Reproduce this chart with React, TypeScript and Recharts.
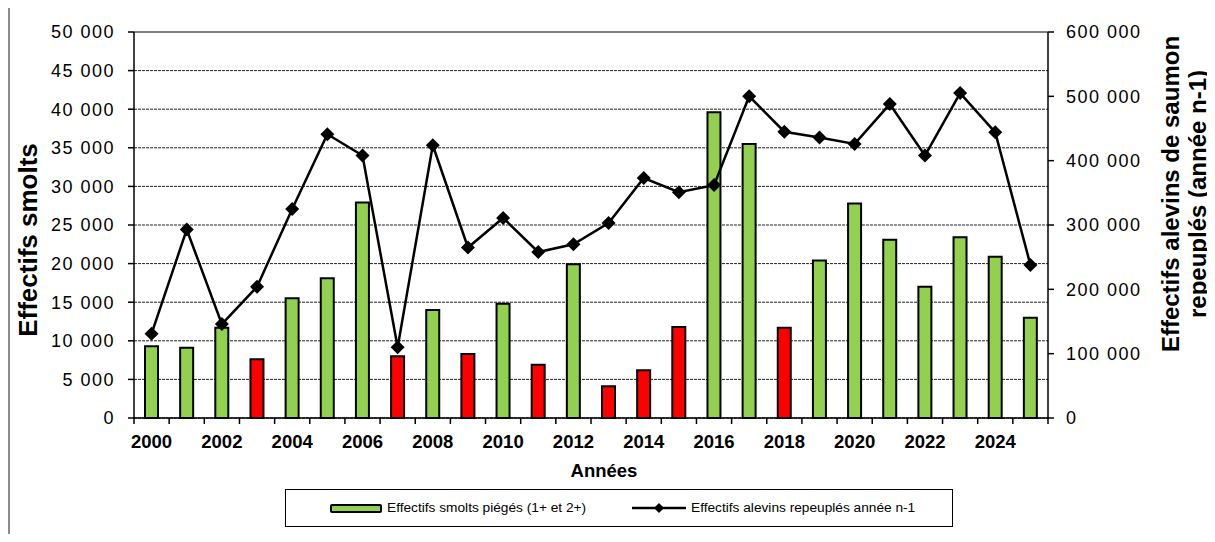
import React from 'react'
import { ComposedChart, Bar, Line, XAxis, YAxis, CartesianGrid, Cell, ReferenceLine } from 'recharts'

const years = [
  '2000', '2001', '2002', '2003', '2004', '2005', '2006', '2007', '2008', '2009', '2010', '2011', '2012',
  '2013', '2014', '2015', '2016', '2017', '2018', '2019', '2020', '2021', '2022', '2023', '2024', '2025',
]
// effectifs smolts piégés (axe gauche)
const smolts = [
  9300, 9100, 11700, 7600, 15500, 18100, 27900, 8000, 14000, 8300, 14800, 6900, 19900,
  4100, 6200, 11800, 39600, 35500, 11700, 20400, 27800, 23100, 17000, 23400, 20900, 13000,
]
// effectifs alevins repeuplés année n-1 (axe droit)
const alevins = [
  131000, 293000, 146000, 204000, 325000, 441000, 408000, 110000, 424000, 265000, 311000, 258000, 270000,
  303000, 373000, 351000, 362000, 500000, 445000, 436000, 426000, 488000, 408000, 505000, 444000, 238000,
]
const redYears = ['2003', '2007', '2009', '2011', '2013', '2014', '2015', '2018']
const leftTicks = [0, 5000, 10000, 15000, 20000, 25000, 30000, 35000, 40000, 45000, 50000]
const rightTicks = [0, 100000, 200000, 300000, 400000, 500000, 600000]

const GREEN = '#92D050'
const RED = '#FF0000'
const FONT = '"Liberation Sans", Arial, sans-serif'

const W = 1215
const H = 542
const PLOT_LEFT = 134
const PLOT_RIGHT = 1048
const PLOT_TOP = 32
const PLOT_BOTTOM = 418
const X_AXIS_H = 40

const data = years.map((year, i) => ({ year, smolts: smolts[i], alevins: alevins[i] }))

const fmt = (v: number) => String(v).replace(/\B(?=(\d{3})+(?!\d))/g, '\u00a0')

function YearTick(props: any) {
  const { x, y, payload, index } = props
  const half = payload?.offset > 0 ? payload.offset : (PLOT_RIGHT - PLOT_LEFT) / years.length / 2
  const isLast = index === years.length - 1
  return (
    <g>
      <line x1={x - half} x2={x - half} y1={y} y2={y + 6} stroke="#000" strokeWidth={1.5} />
      {isLast && <line x1={x + half} x2={x + half} y1={y} y2={y + 6} stroke="#000" strokeWidth={1.5} />}
      {index % 2 === 0 && (
        <text x={x} y={y + 30} textAnchor="middle" fontSize={18.5} fontWeight="bold" fontFamily={FONT} fill="#000">
          {payload.value}
        </text>
      )}
    </g>
  )
}

function Diamond({ cx, cy }: any) {
  if (cx == null || cy == null) return null
  const r = 7
  return <polygon points={`${cx},${cy - r} ${cx + r},${cy} ${cx},${cy + r} ${cx - r},${cy}`} fill="#000" />
}

const tickStyle = { fontSize: 18, fill: '#000', fontFamily: FONT, letterSpacing: 1.5 }

export default function App() {
  return (
    <div style={{ position: 'relative', width: W, height: H, margin: -8, background: '#fff', fontFamily: FONT, overflow: 'hidden' }}>
      <div style={{ position: 'absolute', left: 8, top: 4, right: -10, bottom: -10, borderTop: '1px solid #000', borderLeft: '2px solid #8c8c8c' }} />

      <div style={{ position: 'absolute', left: 0, top: 0 }}>
        <ComposedChart
          width={W}
          height={H}
          data={data}
          margin={{ top: PLOT_TOP, right: 0, bottom: H - PLOT_BOTTOM - X_AXIS_H, left: 0 }}
        >
          <CartesianGrid yAxisId="left" vertical={false} stroke="#222" strokeDasharray="3 1" />
          <XAxis
            dataKey="year"
            height={X_AXIS_H}
            interval={0}
            tickLine={false}
            tickSize={0}
            tickMargin={0}
            tick={<YearTick />}
            axisLine={{ stroke: '#000', strokeWidth: 1.5 }}
          />
          <YAxis
            yAxisId="left"
            width={PLOT_LEFT}
            domain={[0, 50000]}
            ticks={leftTicks}
            tickFormatter={fmt}
            tick={tickStyle}
            tickSize={6}
            tickMargin={13}
            tickLine={{ stroke: '#000', strokeWidth: 1.5 }}
            axisLine={{ stroke: '#000', strokeWidth: 1.5 }}
          />
          <YAxis
            yAxisId="right"
            orientation="right"
            width={W - PLOT_RIGHT}
            domain={[0, 600000]}
            ticks={rightTicks}
            tickFormatter={fmt}
            tick={tickStyle}
            tickSize={6}
            tickMargin={12}
            tickLine={{ stroke: '#000', strokeWidth: 1.5 }}
            axisLine={{ stroke: '#000', strokeWidth: 1.5 }}
          />
          <ReferenceLine yAxisId="left" y={50000} stroke="#808080" strokeWidth={2} />
          <Bar yAxisId="left" dataKey="smolts" barSize={13} stroke="#000" strokeWidth={2} isAnimationActive={false}>
            {data.map(d => (
              <Cell key={d.year} fill={redYears.includes(d.year) ? RED : GREEN} />
            ))}
          </Bar>
          <Line
            yAxisId="right"
            dataKey="alevins"
            stroke="#000"
            strokeWidth={2.5}
            dot={(p: any) => <Diamond key={`d-${p.index}`} cx={p.cx} cy={p.cy} />}
            activeDot={false}
            isAnimationActive={false}
          />
        </ComposedChart>
      </div>

      {/* titres des axes */}
      <div style={{ position: 'absolute', left: -122, top: 224.5, width: 300, height: 30, lineHeight: '30px', textAlign: 'center', fontSize: 26, fontWeight: 'bold', transform: 'rotate(-90deg)', whiteSpace: 'nowrap' }}>
        Effectifs smolts
      </div>
      <div style={{ position: 'absolute', left: 983.5, top: 167, width: 400, height: 54, lineHeight: '27px', textAlign: 'center', fontSize: 24, fontWeight: 'bold', transform: 'rotate(-90deg)', whiteSpace: 'nowrap' }}>
        <div>Effectifs alevins de saumon</div>
        <div>repeuplés (année n-1)</div>
      </div>
      <div style={{ position: 'absolute', left: 504, top: 460.6, width: 200, lineHeight: '20px', textAlign: 'center', fontSize: 18.5, fontWeight: 'bold' }}>
        Années
      </div>

      {/* légende */}
      <div style={{ position: 'absolute', left: 285, top: 489, width: 668, height: 38, border: '1px solid #000', boxSizing: 'border-box' }} />
      <div style={{ position: 'absolute', left: 330, top: 504, width: 52, height: 9, background: GREEN, border: '2px solid #000', borderRadius: 2, boxSizing: 'border-box' }} />
      <div style={{ position: 'absolute', left: 387, top: 500, lineHeight: '16px', fontSize: 13.7, whiteSpace: 'nowrap' }}>
        Effectifs smolts piégés (1+ et 2+)
      </div>
      <svg style={{ position: 'absolute', left: 630, top: 500 }} width={58} height={16}>
        <line x1={2} x2={56} y1={8} y2={8} stroke="#000" strokeWidth={2.5} />
        <polygon points="29,3 34,8 29,13 24,8" fill="#000" />
      </svg>
      <div style={{ position: 'absolute', left: 691, top: 500, lineHeight: '16px', fontSize: 13.7, whiteSpace: 'nowrap' }}>
        Effectifs alevins repeuplés année n-1
      </div>
    </div>
  )
}
